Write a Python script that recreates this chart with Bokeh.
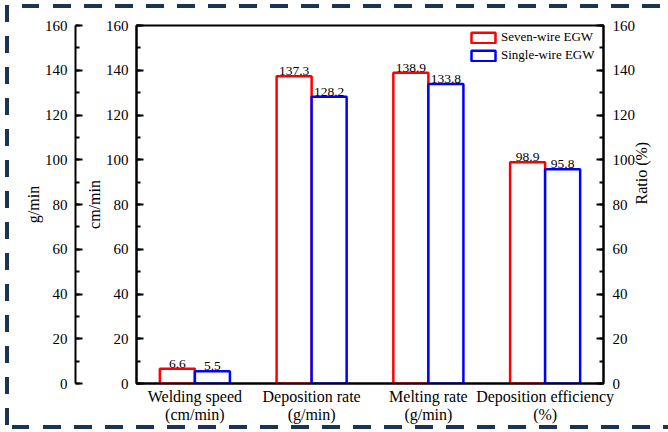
import math
from bokeh.plotting import figure
from bokeh.models import (Range1d, LinearAxis, FixedTicker, SingleIntervalTicker,
                          ColumnDataSource, Legend, LegendItem)
from bokeh.transform import dodge
from bokeh.core.properties import value
from bokeh.embed import file_html
from bokeh.resources import INLINE

# ---------------- data ----------------
categories = ["Welding speed\n(cm/min)", "Deposition rate\n(g/min)",
              "Melting rate\n(g/min)", "Deposition efficiency\n(%)"]
positions = [1, 2, 3, 4]
seven_wire = [6.6, 137.3, 138.9, 98.9]
single_wire = [5.5, 128.2, 133.8, 95.8]
series_names = ["Seven-wire EGW", "Single-wire EGW"]
y_min, y_max, y_step = 0, 160, 20

FONT = "Liberation Serif"
RED = "#ff0000"
BLUE = "#0000ff"
NAVY = "#1c3452"

src = ColumnDataSource(dict(
    x=positions, seven=seven_wire, single=single_wire,
    seven_txt=[f"{v:.1f}" for v in seven_wire],
    single_txt=[f"{v:.1f}" for v in single_wire],
))

dash_h = f"repeating-linear-gradient(to right, {NAVY} 0px 17.5px, transparent 17.5px 31px)"
dash_v = f"repeating-linear-gradient(to bottom, {NAVY} 0px 17px, transparent 17px 31px)"
page_styles = {
    "background-color": "white",
    "background-image": ", ".join([dash_h, dash_h, dash_v]),
    "background-size": "100% 4px, 100% 4px, 4px 100%",
    "background-position": "22px 4px, 12px 425px, 5px 5px",
    "background-repeat": "no-repeat",
}

p = figure(width=668, height=432, output_backend="svg", toolbar_location=None,
           x_range=Range1d(0.5, 4.5), y_range=Range1d(y_min, y_max),
           min_border_left=136, min_border_right=65, min_border_top=25,
           min_border_bottom=49, background_fill_color="white",
           border_fill_alpha=0, styles=page_styles)
p.xgrid.visible = False
p.ygrid.visible = False
p.outline_line_color = "black"
p.outline_line_width = 2
p.outline_line_alpha = 1

BW = 0.3
r1 = p.vbar(x=dodge("x", -BW / 2, range=p.x_range), top="seven", width=BW, source=src,
            fill_color="white", line_color=RED, line_width=2.5)
r2 = p.vbar(x=dodge("x", BW / 2, range=p.x_range), top="single", width=BW, source=src,
            fill_color="white", line_color=BLUE, line_width=2.5)

p.text(x=dodge("x", -BW / 2, range=p.x_range), y="seven", text="seven_txt", source=src,
       text_font=value(FONT), text_font_size="13.5px", text_align="center",
       text_baseline="bottom", y_offset=-1, text_color="black")
p.text(x=dodge("x", BW / 2, range=p.x_range), y="single", text="single_txt", source=src,
       text_font=value(FONT), text_font_size="13.5px", text_align="center",
       text_baseline="bottom", y_offset=-1, text_color="black")


def style_y(ax, label):
    ax.ticker = SingleIntervalTicker(interval=y_step, num_minor_ticks=2)
    ax.axis_label = label
    ax.axis_line_width = 2
    ax.axis_line_color = "black"
    ax.major_tick_line_width = 2
    ax.minor_tick_line_width = 2
    ax.major_tick_in = 7
    ax.major_tick_out = 0
    ax.minor_tick_in = 4
    ax.minor_tick_out = 0
    ax.major_label_standoff = 8
    ax.major_label_text_font = FONT
    ax.major_label_text_font_size = "15px"
    ax.major_label_text_color = "black"
    ax.axis_label_text_font = FONT
    ax.axis_label_text_font_size = "16px"
    ax.axis_label_text_font_style = "normal"
    ax.axis_label_text_color = "black"


# inner left axis (cm/min)
inner = p.yaxis[0]
style_y(inner, "cm/min")
inner.axis_label_standoff = 0

# invisible spacer axis between the two left axes
spacer = LinearAxis(ticker=FixedTicker(ticks=[y_min]), axis_label=None,
                    axis_line_color=None, major_tick_line_color=None,
                    minor_tick_line_color=None, major_tick_in=0, major_tick_out=7,
                    minor_tick_in=0, minor_tick_out=0, major_label_standoff=0,
                    major_label_text_font_size="1px", major_label_text_alpha=0)
p.add_layout(spacer, "left")

# outer left axis (g/min)
outer = LinearAxis()
style_y(outer, "g/min")
outer.axis_label_standoff = 0
p.add_layout(outer, "left")

# right axis Ratio (%)
right = LinearAxis()
style_y(right, "Ratio (%)")
right.major_label_standoff = 9
right.axis_label_standoff = 3
right.axis_label_orientation = math.pi / 2
p.add_layout(right, "right")

# x axis
xa = p.xaxis[0]
xa.ticker = FixedTicker(ticks=positions)
xa.major_label_overrides = {pos: lab for pos, lab in zip(positions, categories)}
xa.axis_line_width = 2
xa.axis_line_color = "black"
xa.major_tick_line_color = None
xa.minor_tick_line_color = None
xa.major_tick_in = 0
xa.major_tick_out = 0
xa.major_label_standoff = 4
xa.major_label_text_font = FONT
xa.major_label_text_font_size = "16px"
xa.major_label_text_line_height = 1.1
xa.major_label_text_color = "black"

legend = Legend(items=[LegendItem(label=series_names[0], renderers=[r1]),
                       LegendItem(label=series_names[1], renderers=[r2])],
                location="top_right")
legend.label_text_font = FONT
legend.label_text_font_size = "13px"
legend.label_text_color = "black"
legend.glyph_width = 30
legend.glyph_height = 13
legend.label_standoff = 3
legend.label_height = 13
legend.label_width = 98
legend.spacing = 2
legend.padding = 2
legend.margin = 4
legend.border_line_color = None
legend.background_fill_alpha = 0
p.add_layout(legend)

open("out.html", "w").write(file_html(p, INLINE))
